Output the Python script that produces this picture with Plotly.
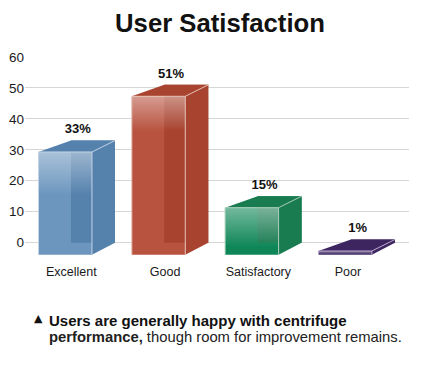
import plotly.graph_objects as go

categories = ["Excellent", "Good", "Satisfactory", "Poor"]
values = [33, 51, 15, 1]
labels = ["33%", "51%", "15%", "1%"]
front_colors = ["#6C96BE", "#B85340", "#0E8657", "#3D2560"]
back_colors = ["#5581AD", "#A8432F", "#197B50", "#3D2560"]
edge_colors = ["#C4D4E6", "#E6C4BA", "#A9D0BC", "#B9A6CC"]
highlight_stops = [0.42, 0.22, 0.85, 1.0]
y_ticks = [0, 10, 20, 30, 40, 50, 60]
label_offsets = [0.065, 0.07, 0.07, 0.03]

BAR_W = 0.573      # front-face width, in category units
DX = 0.2465        # depth at the right edge, in category units
DX_LEFT = 0.348    # depth at the left edge (perspective)
DY = 3.7           # depth, in y-axis units
FLOOR = -DY - 0.2
LABEL_LIFT = 1.3   # data-label lift, in y-axis units

fig = go.Figure()


def poly(xs, ys, color=None, gradient=None):
    kw = dict(fillcolor=color) if gradient is None else dict(fillgradient=gradient)
    fig.add_trace(go.Scatter(x=xs + xs[:1], y=ys + ys[:1], mode="lines", fill="toself",
                             line=dict(width=0), hoverinfo="skip", **kw))


for i, v in enumerate(values):
    xl, xr = i - BAR_W / 2, i + BAR_W / 2
    top = v - DY
    poly([xl, xr, xr, xl], [FLOOR, FLOOR, top, top], front_colors[i])
    poly([xl + DX_LEFT, xr + DX, xr + DX, xl + DX_LEFT], [0, 0, v, v], back_colors[i])
    poly([xr, xr + DX, xr + DX, xr], [FLOOR, 0, v, top], back_colors[i])
    poly([xl, xr, xr + DX, xl + DX_LEFT], [top, top, v, v], back_colors[i])
    s = highlight_stops[i]
    poly([xl, xr, xr, xl], [FLOOR, FLOOR, top, top], gradient=dict(
        type="vertical", start=top, stop=FLOOR,
        colorscale=[[0, "rgba(255,255,255,0.42)"], [s, "rgba(255,255,255,0)"], [1, "rgba(255,255,255,0)"]]))
    fig.add_trace(go.Scatter(x=[xl, xl, xr, xr, None, xr, xr + DX], y=[FLOOR, top, top, FLOOR, None, top, v],
                             mode="lines", line=dict(color=edge_colors[i], width=1), hoverinfo="skip"))

fig.add_trace(go.Scatter(x=[i + 0.135 for i in range(len(values))], y=[v + LABEL_LIFT for v in values],
                         mode="text", text=labels, textposition="top center", hoverinfo="skip",
                         textfont=dict(family="Liberation Sans", size=13, color="#111", weight="bold")))

fig.update_layout(
    width=425, height=365, autosize=False, showlegend=False,
    paper_bgcolor="white", plot_bgcolor="white",
    margin=dict(l=25, r=16, t=57, b=110),
    font=dict(family="Liberation Sans", color="#1a1a1a"),
    xaxis=dict(range=[-0.431, 3.684], showgrid=False, zeroline=False, showline=False,
               tickmode="array", tickvals=[i + o for i, o in enumerate(label_offsets)], ticktext=categories,
               ticks="outside", ticklen=5, tickcolor="rgba(0,0,0,0)", tickfont=dict(size=12.5)),
    yaxis=dict(range=[-4, 60], tickmode="array", tickvals=y_ticks, showgrid=True, gridcolor="#D6D6D6", gridwidth=1,
               zeroline=False, showline=False, tickfont=dict(size=13.5), ticks="", automargin=False),
    title=dict(text="<b>User Satisfaction</b>", x=220 / 425, xanchor="center", y=1 - 23 / 365, yanchor="middle",
               font=dict(size=25.7, color="#111")),
    annotations=[
        dict(text="▲", xref="paper", yref="paper", x=(32 - 25) / 384, y=(255 - 318) / 198, xanchor="left",
             yanchor="middle", showarrow=False, font=dict(family="DejaVu Sans", size=11, color="#111")),
        dict(text="<b>Users are generally happy with centrifuge</b>", xref="paper", yref="paper",
             x=(47 - 25) / 384, y=(255 - 320) / 198, xanchor="left", yanchor="middle", showarrow=False,
             font=dict(size=15, color="#111")),
        dict(text="<b>performance,</b> though room for improvement remains.", xref="paper", yref="paper",
             x=(47 - 25) / 384, y=(255 - 337) / 198, xanchor="left", yanchor="middle", showarrow=False,
             font=dict(size=14.8, color="#222")),
    ],
)
fig.write_html("out.html", config={"displayModeBar": False}, post_script="document.body.style.margin='0';")
